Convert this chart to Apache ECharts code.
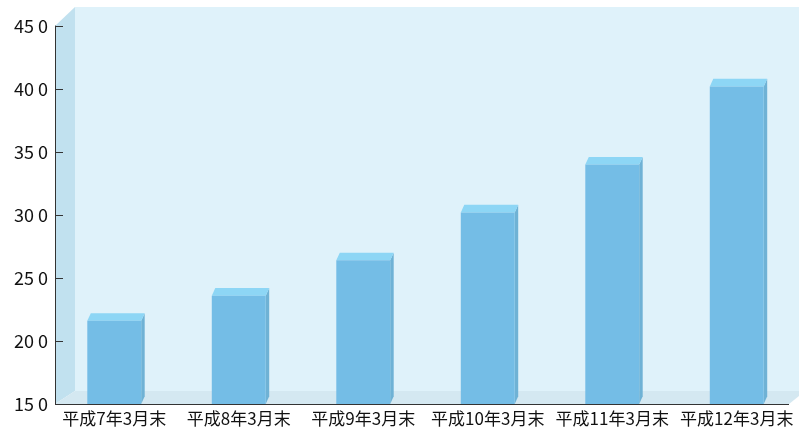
<!DOCTYPE html>
<html>
<head>
<meta charset="utf-8">
<script src="https://cdn.jsdelivr.net/npm/echarts@6/dist/echarts.min.js"></script>
<style>
  html, body { margin: 0; padding: 0; background: #ffffff; }
  #chart { width: 799px; height: 427px; }
</style>
</head>
<body>
<div id="chart"></div>
<script>
// Year-end figures (end of March, Heisei 7 to Heisei 12)
const categories = ['平成7年3月末', '平成8年3月末', '平成9年3月末', '平成10年3月末', '平成11年3月末', '平成12年3月末'];
const values = [216, 236, 264, 302, 340, 402];
const yMin = 150;
const yMax = 450;
const yStep = 50;

// Tick labels are printed with a gap before the last digit, e.g. "45 0"
function tickLabel(v) {
  const s = String(v);
  return s.slice(0, -1) + ' ' + s.slice(-1);
}

const chart = echarts.init(document.getElementById('chart'), null, { renderer: 'canvas' });

// 3D box: front face, lighter top face, darker right side
const DX = 3.5, DY = -7.7;
function renderBox(params, api) {
  const i = api.value(0);
  const v = api.value(1);
  const top = api.coord([i, v]);
  const base = api.coord([i, yMin]);
  const w = api.size([1, 0])[0] * 0.433;
  const x0 = top[0] - w / 2;
  const x1 = top[0] + w / 2;
  const yt = top[1];
  const yb = base[1];
  return {
    type: 'group',
    children: [
      { type: 'polygon', shape: { points: [[x1, yt], [x1 + DX, yt + DY], [x1 + DX, yb + DY], [x1, yb]] },
        style: { fill: '#6fb2d5' } },
      { type: 'polygon', shape: { points: [[x0, yt], [x0 + DX, yt + DY], [x1 + DX, yt + DY], [x1, yt]] },
        style: { fill: '#8dd6f5' } },
      { type: 'rect', shape: { x: x0, y: yt, width: w, height: yb - yt },
        style: { fill: '#74bde6' } }
    ]
  };
}

const option = {
  animation: false,
  backgroundColor: '#ffffff',
  textStyle: { fontFamily: '"Noto Sans CJK JP", "Noto Sans", sans-serif' },
  graphic: [
    // back wall
    { type: 'rect', z: -10, shape: { x: 75, y: 7, width: 724, height: 384 }, style: { fill: '#dff2fa' }, silent: true },
    // left wall
    { type: 'polygon', z: -9, shape: { points: [[55, 26], [75, 7], [75, 391], [55, 404]] }, style: { fill: '#c1e1ef' }, silent: true },
    // floor
    { type: 'polygon', z: -9, shape: { points: [[55, 404], [75, 391], [799, 391], [799, 396], [789, 404]] }, style: { fill: '#d4e8f1' }, silent: true },
    // front edge of floor
    { type: 'line', z: 1, shape: { x1: 55, y1: 404.5, x2: 789, y2: 404.5 }, style: { stroke: '#333333', lineWidth: 1 }, silent: true }
  ],
  grid: { left: 52, top: 26, width: 748, bottom: 23, containLabel: false },
  xAxis: {
    type: 'category',
    data: categories,
    axisLine: { show: false },
    axisTick: { show: false },
    axisLabel: { color: '#111111', fontSize: 17, margin: 6, interval: 0 },
    splitLine: { show: false }
  },
  yAxis: {
    type: 'value',
    min: yMin,
    max: yMax,
    interval: yStep,
    offset: -3,
    axisLine: { show: true, lineStyle: { color: '#333333', width: 1 } },
    axisTick: { show: true, inside: true, length: 8, lineStyle: { color: '#333333' } },
    axisLabel: { color: '#111111', fontSize: 18, margin: 7, formatter: tickLabel },
    splitLine: { show: false }
  },
  series: [{
    type: 'custom',
    z: 5,
    renderItem: renderBox,
    data: values.map((v, i) => [i, v]),
    encode: { x: 0, y: 1 }
  }]
};

chart.setOption(option);
</script>
</body>
</html>
